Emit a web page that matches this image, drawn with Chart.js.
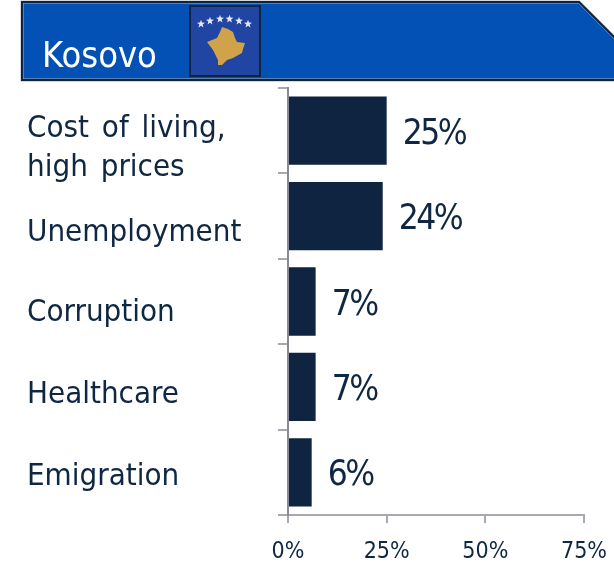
<!DOCTYPE html>
<html><head><meta charset="utf-8">
<style>html,body{margin:0;padding:0;background:#fff;overflow:hidden}canvas{display:block}</style>
<script src="https://cdn.jsdelivr.net/npm/chart.js@4/dist/chart.umd.js"></script>
</head><body><div style="width:614px;height:564px;position:relative"><canvas id="c"></canvas></div>
<script>
const categories=[["Cost of living,","high prices"],"Unemployment","Corruption","Healthcare","Emigration"];
const shares=[25,24,7,7,6];
const xTicks=[0,25,50,75];
const title="Kosovo";
const FONT='"DejaVu Sans Condensed"';
const INK='#0f2742';
const labelShift=[18,17,11,8,5];
const xLabelShift=9;

const decor={id:'decor',
 beforeDraw(chart){
  const c=chart.ctx;c.save();
  c.beginPath();c.moveTo(22,2);c.lineTo(579,2);c.lineTo(616,39);c.lineTo(616,80);c.lineTo(22,80);c.closePath();
  c.fillStyle='#0451b5';c.fill();c.lineWidth=3;c.strokeStyle='#a9b0ba';c.stroke();c.lineWidth=2;c.strokeStyle='#0d2340';c.stroke();
  c.fillStyle='#fff';c.font='36px '+FONT;c.textBaseline='alphabetic';c.textAlign='left';c.fillText(title,42,67);
  c.fillStyle='#2145a3';c.fillRect(190,6,70,70);c.lineWidth=2;c.strokeStyle='#0d2340';c.strokeRect(190,6,70,70);
  c.fillStyle='#e6eaf5';
  [[201,24],[210,21],[220,19],[229.5,19],[239,21],[248,24]].forEach(([x,y])=>{
    c.beginPath();for(let i=0;i<10;i++){const r=i%2?1.7:4.2,a=-Math.PI/2+i*Math.PI/5;c.lineTo(x+r*Math.cos(a),y+r*Math.sin(a));}c.closePath();c.fill();});
  c.fillStyle='#d0a24a';c.beginPath();
  [[222,27],[228,29],[233,32],[235,38],[237,42],[245,43],[243,49],[242,53],[233,58],[227,60],[222,65],[218,65],[218,60],[213,50],[207,42],[217,38],[220,32]].forEach(p=>c.lineTo(p[0],p[1]));
  c.closePath();c.fill();c.restore();
  chart.scales.y.getLabelItems().forEach((it,i)=>{it.options.translation=[it.options.translation[0],it.options.translation[1]+labelShift[i]];});
  chart.scales.x.getLabelItems().forEach(it=>{it.options.translation=[it.options.translation[0],it.options.translation[1]+xLabelShift];});
  c.wordSpacing='4px';
 },
 afterDatasetsDraw(chart){
  const c=chart.ctx;c.save();c.fillStyle=INK;c.font='35px '+FONT;c.letterSpacing='-2.5px';c.textAlign='left';c.textBaseline='middle';
  chart.getDatasetMeta(0).data.forEach((b,i)=>c.fillText(shares[i]+'%',b.x+16,b.y+4));
  c.restore();
 }};

new Chart(document.getElementById('c'),{type:'bar',
 data:{labels:categories,datasets:[{data:shares,backgroundColor:'#0e2440',borderWidth:0,barPercentage:0.8,categoryPercentage:1}]},
 plugins:[decor],
 options:{indexAxis:'y',responsive:true,maintainAspectRatio:false,animation:false,
  layout:{padding:{top:88,right:30,bottom:0,left:27}},
  plugins:{legend:{display:false},tooltip:{enabled:false},title:{display:false}},
  scales:{
   x:{min:0,max:75,afterBuildTicks(s){s.ticks=xTicks.map(v=>({value:v}));},
    grid:{drawOnChartArea:false,color:'#a8a8b0',lineWidth:2,tickLength:8},border:{color:'#a8a8b0',width:2},
    ticks:{color:INK,font:{family:FONT,size:23},padding:6.7,maxRotation:0,callback:v=>v+'%'}},
   y:{afterFit(s){s.width=261;},
    grid:{drawOnChartArea:false,color:'#a8a8b0',lineWidth:2,tickLength:10},border:{color:'#8a8a95',width:2},
    ticks:{color:INK,font:{family:FONT,size:31,lineHeight:1.26},crossAlign:'far',padding:6,autoSkip:false}}
  }}});
</script></body></html>
